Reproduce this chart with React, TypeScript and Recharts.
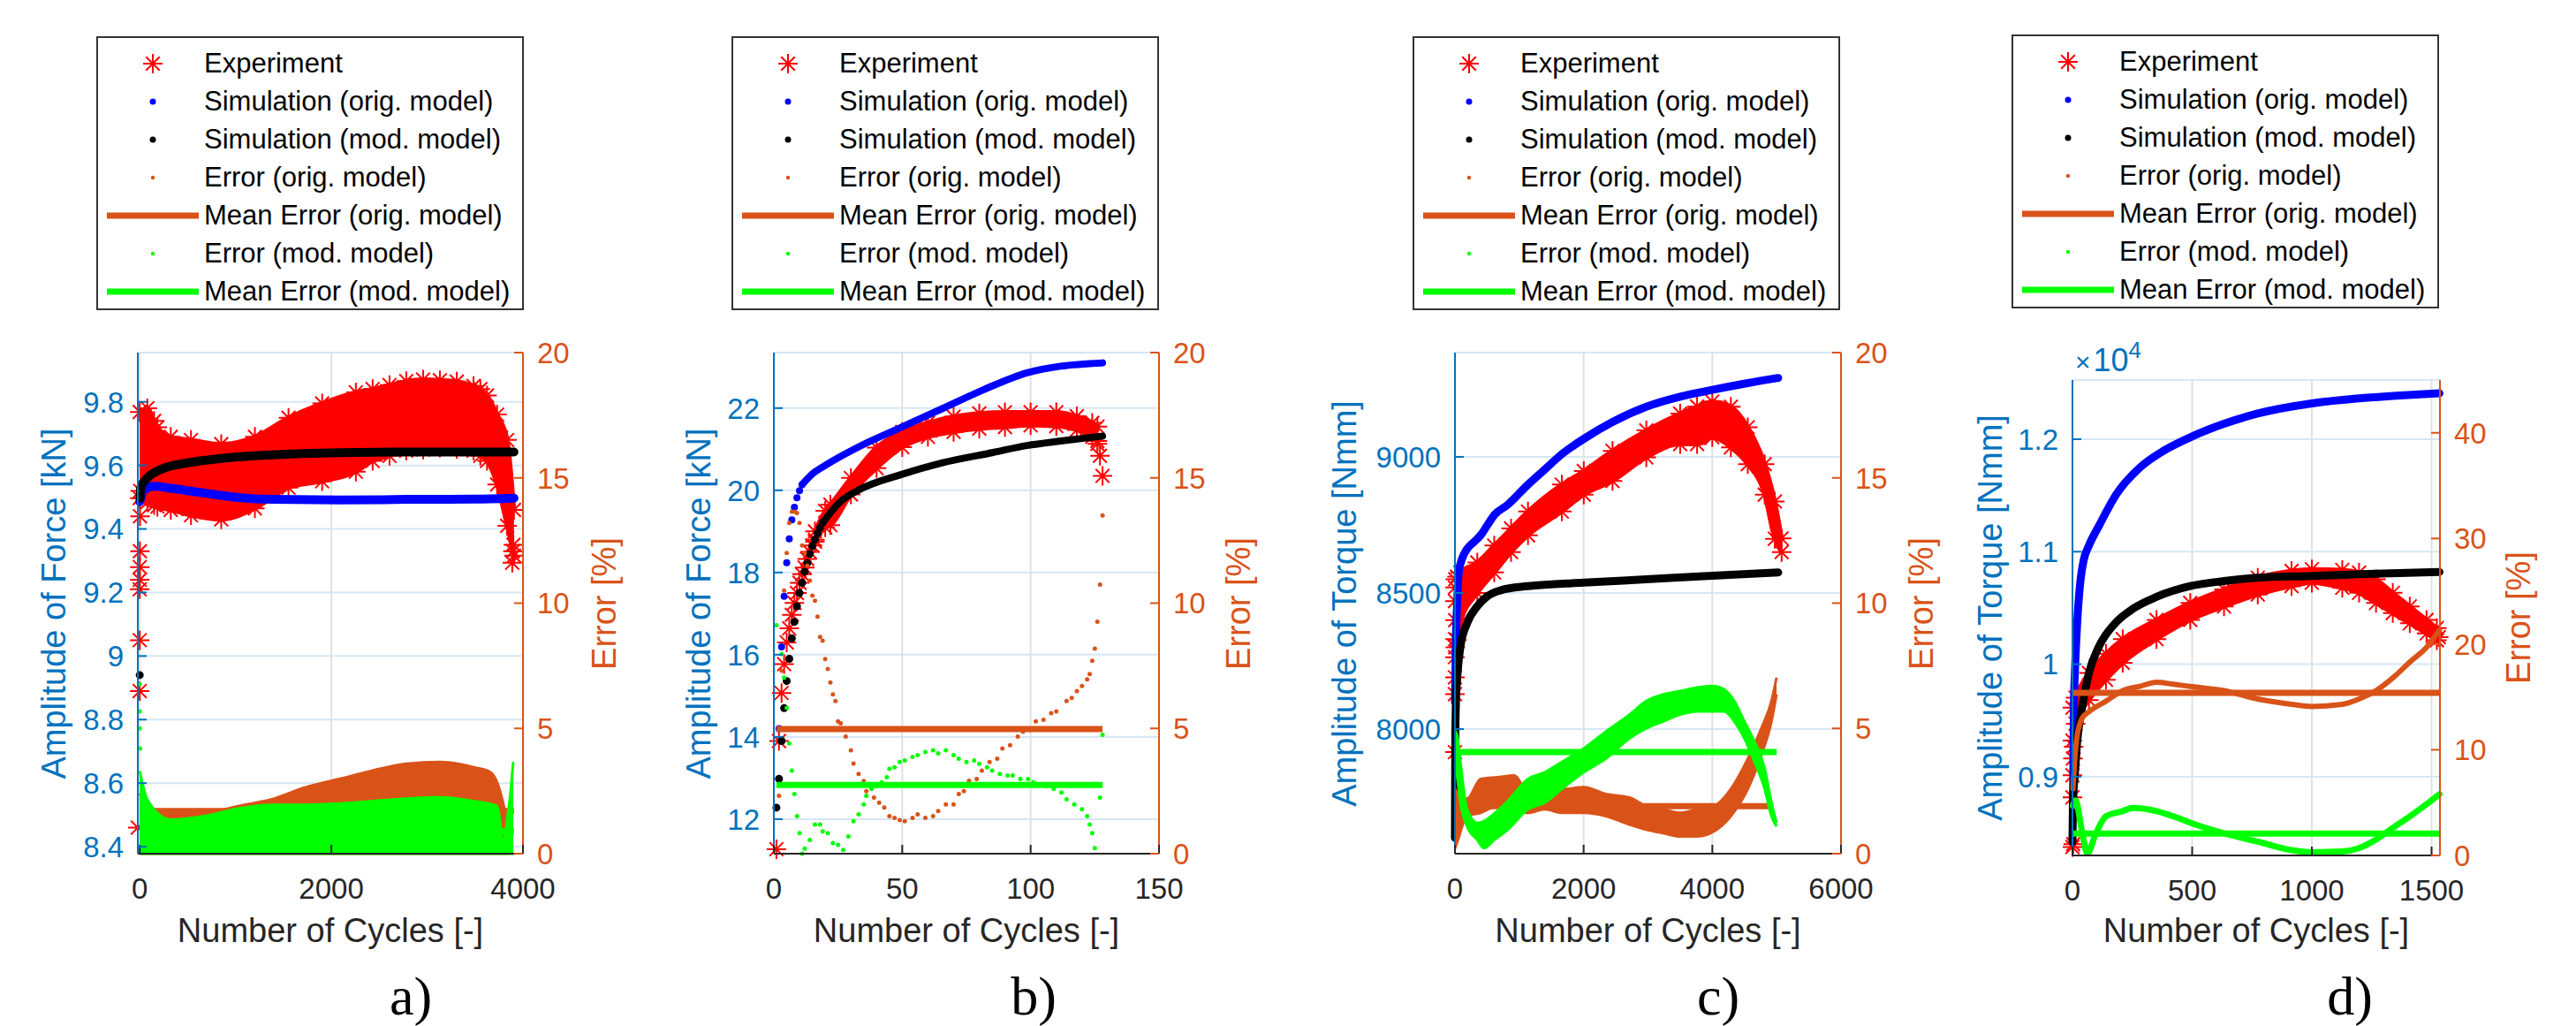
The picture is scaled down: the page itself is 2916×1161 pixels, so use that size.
import React from 'react';
import { ComposedChart, Line, Area, Scatter, XAxis, YAxis, CartesianGrid } from 'recharts';

const AX_BLUE = '#0072BD';
const ORANGE = '#D95319';
const GREEN = '#00FF00';
const RED = '#FF0000';
const SIM_BLUE = '#0000FF';
const DARK = '#262626';
const FONT = '"Liberation Sans", Arial, Helvetica, sans-serif';

type Pt = [number, number];
type Band = [number, number, number];

// ---------- a) force, 4000 cycles ----------
const aExpBand: Band[] = [
  [0, 9.497, 9.768], [80, 9.485, 9.78], [150, 9.475, 9.74], [184, 9.47, 9.72], [324, 9.46, 9.69],
  [535, 9.443, 9.68], [851, 9.43, 9.667], [1202, 9.465, 9.69], [1553, 9.53, 9.75], [1904, 9.55, 9.795],
  [2256, 9.58, 9.83], [2431, 9.614, 9.84], [2607, 9.63, 9.853], [2782, 9.646, 9.865], [2958, 9.65, 9.87],
  [3133, 9.656, 9.868], [3309, 9.652, 9.864], [3484, 9.646, 9.85], [3555, 9.63, 9.84], [3625, 9.614, 9.82],
  [3730, 9.54, 9.76], [3835, 9.41, 9.68], [3906, 9.316, 9.46],
];
const aExpPts: Pt[] = [
  [4, 9.52], [3, 9.44], [2, 9.33], [1, 9.28], [1, 9.24], [0, 9.21], [0, 9.05], [0, 8.89], [-20, 8.46],
  [3888, 9.294], [3900, 9.35], [3895, 9.33],
];
const aSimOrig: Pt[] = [
  [0, 9.486], [44, 9.523], [149, 9.534], [324, 9.528], [675, 9.513], [1027, 9.499], [1378, 9.493],
  [2080, 9.491], [2782, 9.493], [3484, 9.494], [3906, 9.497],
];
const aSimMod: Pt[] = [
  [3, 9.497], [10, 9.53], [78, 9.56], [219, 9.587], [500, 9.608], [851, 9.622], [1378, 9.633],
  [2080, 9.64], [2782, 9.642], [3484, 9.642], [3906, 9.642],
];
const aSimModPts: Pt[] = [[0, 8.94]];
const aErrOrig: Band[] = [
  [0, 0, 2.4], [44, 0, 2.1], [324, 0, 1.55], [675, 0, 1.6], [1027, 0, 1.9], [1378, 0, 2.17], [1729, 0, 2.65],
  [2080, 0, 2.98], [2431, 0, 3.32], [2782, 0, 3.59], [3133, 0, 3.66], [3484, 0, 3.45], [3660, 0, 3.25],
  [3765, 0, 2.44], [3835, 0, 1.23], [3870, 0, 0.3],
];
const aMeanOrig: Pt[] = [[0, 1.7], [3906, 1.7]];
const aErrMod: Band[] = [
  [0, 0, 3.3], [78, 0, 2.17], [324, 0, 1.36], [675, 0, 1.5], [1027, 0, 1.8], [1378, 0, 1.95], [1729, 0, 1.95],
  [2080, 0, 2.0], [2431, 0, 2.1], [2782, 0, 2.2], [3133, 0, 2.25], [3484, 0, 2.1], [3730, 0, 1.9],
  [3800, 0, 0.42], [3835, 0, 1.36], [3870, 0, 2.44], [3898, 0, 3.66],
];
const aErrModPts: Pt[] = [[0, 6.76], [0, 5.68], [0, 5.0], [3, 4.2]];
const aMeanMod: Pt[] = [[0, 0.9], [3906, 0.9]];

// ---------- b) force, 128 cycles ----------
const bExpBand: Band[] = [
  [16, 18.75, 19.0], [20, 19.1, 19.5], [22, 19.15, 19.65], [30, 19.9, 20.3], [40, 20.54, 21.04],
  [50, 21.05, 21.42], [60, 21.3, 21.64], [70, 21.42, 21.79], [80, 21.5, 21.87], [90, 21.54, 21.9],
  [100, 21.58, 21.9], [110, 21.56, 21.9], [118, 21.47, 21.8], [124, 21.3, 21.64], [126, 21.2, 21.55],
];
const bExpPts: Pt[] = [
  [1, 11.27], [2, 13.9], [3, 15.07], [4, 15.77], [5, 16.3], [6, 16.64], [7, 16.97], [8, 17.26], [9, 17.5],
  [10, 17.75], [11, 17.96], [12, 18.12], [13, 18.33], [14, 18.5], [15, 18.66], [16, 18.8],
  [126, 21.13], [127, 20.84], [128, 20.35],
];
const bSimOrigPts: Pt[] = [
  [2, 14.2], [3, 16.19], [4, 17.42], [5, 18.24], [6, 18.82], [7, 19.28], [8, 19.59], [9, 19.82], [10, 19.99], [11, 20.14],
];
const bSimOrig: Pt[] = [
  [11, 20.14], [15, 20.4], [19.6, 20.59], [32.8, 21.05], [49.9, 21.54], [65.7, 21.99], [81.4, 22.44],
  [98.6, 22.86], [111.7, 23.02], [128, 23.1],
];
const bSimModPts: Pt[] = [
  [1, 12.28], [2, 12.98], [3, 13.9], [4, 14.7], [5, 15.36], [6, 15.9], [7, 16.4], [8, 16.8], [9, 17.18],
  [10, 17.5], [11, 17.75], [12, 18.02], [13, 18.23], [14, 18.45], [15, 18.64], [16, 18.8], [17, 18.95],
  [18, 19.09], [19, 19.21],
];
const bSimMod: Pt[] = [
  [19, 19.21], [26, 19.73], [32.8, 20.0], [50, 20.39], [65.7, 20.67], [85.4, 20.92], [98.6, 21.09],
  [111.7, 21.2], [128, 21.32],
];
const bErrOrigPts: Pt[] = [
  [2, 2.31], [3, 7.3], [4, 10.5], [5, 12.0], [6, 13.2], [7, 13.65], [8, 13.65], [9, 13.6], [10, 13.2],
  [11, 12.3], [12, 12.0], [13, 11.5], [14, 10.9], [15, 10.3], [16, 10.1], [17, 9.46], [18, 8.65], [19, 8.5],
  [20, 7.77], [21, 7.37], [22, 6.83], [23, 6.36], [24, 6.09], [25, 5.28], [26, 5.2], [28, 4.67], [30, 4.13],
  [31, 3.6], [33, 3.18], [35, 2.9], [36, 2.5], [39, 2.24], [41, 2.04], [43, 1.84], [45, 1.5], [47, 1.43],
  [49, 1.34], [51, 1.3], [54, 1.43], [56, 1.57], [59, 1.43], [62, 1.5], [64, 1.7], [67, 1.97], [70, 1.97],
  [72, 2.38], [74, 2.5], [76, 2.91], [79, 2.98], [81, 3.32], [84, 3.66], [87, 3.79], [89, 4.2], [92, 4.33],
  [95, 4.67], [97, 4.87], [100, 4.94], [102, 5.28], [105, 5.34], [108, 5.61], [110, 5.68], [114, 6.09],
  [116, 6.22], [118, 6.49], [120, 6.69], [122, 6.96], [123, 7.17], [124, 7.7], [125, 8.18], [126, 9.26],
  [127, 10.74], [128, 13.5],
];
const bMeanOrig: Pt[] = [[1, 4.97], [128, 4.97]];
const bErrModPts: Pt[] = [
  [1, 9.12], [3, 7.97], [4, 7.03], [5, 5.82], [6, 4.4], [7, 3.32], [8, 2.38], [9, 1.5], [10, 0.82], [11, 0.0],
  [12, 0.2], [14, 0.55], [16, 1.16], [18, 1.16], [19, 0.89], [21, 0.82], [23, 0.42], [25, 0.35], [27, 0.15],
  [29, 0.69], [31, 1.3], [33, 1.57], [35, 1.97], [36, 2.31], [38, 2.58], [40, 2.71], [42, 2.85], [44, 3.05],
  [45, 3.39], [47, 3.45], [49, 3.66], [51, 3.72], [54, 3.86], [56, 3.93], [59, 4.06], [62, 4.13], [64, 4.0],
  [67, 4.13], [70, 3.93], [72, 3.79], [75, 3.66], [78, 3.72], [80, 3.59], [83, 3.45], [85, 3.32], [88, 3.18],
  [91, 3.12], [93, 3.12], [96, 2.98], [99, 2.98], [101, 2.85], [104, 2.78], [106, 2.71], [109, 2.58],
  [112, 2.44], [114, 2.17], [117, 1.97], [120, 1.77], [122, 1.5], [123, 1.16], [124, 0.82], [125, 0.22],
  [127, 2.24], [128, 4.74],
];
const bMeanMod: Pt[] = [[1, 2.74], [128, 2.74]];

// ---------- c) torque, 5000 cycles ----------
const cExpBand: Band[] = [
  [5, 8300, 8550], [32, 8327, 8560], [84, 8389, 8575], [347, 8500, 8612], [610, 8575, 8674], [872, 8650, 8737],
  [1135, 8712, 8799], [1661, 8799, 8898], [2002, 8861, 8948], [2449, 8911, 9022], [2974, 8998, 9097],
  [3500, 9047, 9159], [3763, 9047, 9185], [3999, 9072, 9203], [4288, 9035, 9184], [4551, 8973, 9109],
  [4814, 8861, 8973], [4971, 8699, 8836], [5077, 8650, 8700],
];
const cExpPts: Pt[] = [
  [0, 7915], [0, 8128], [0, 8190], [0, 8264], [3, 8330], [3, 8400], [0, 8470], [0, 8520],
];
const cSimOrig: Pt[] = [
  [0, 8100], [5, 8165], [15, 8330], [32, 8451], [58, 8575], [110, 8625], [189, 8662], [294, 8687],
  [399, 8712], [504, 8749], [610, 8786], [820, 8824], [1135, 8898], [1398, 8954], [1661, 9010],
  [2002, 9066], [2449, 9128], [2974, 9184], [3500, 9221], [3999, 9246], [4551, 9271], [5024, 9290],
];
const cSimMod: Pt[] = [
  [0, 7600], [5, 7950], [15, 8100], [32, 8177], [84, 8302], [189, 8389], [347, 8451], [504, 8488],
  [715, 8510], [1135, 8525], [2002, 8538], [2974, 8550], [3999, 8563], [5024, 8575],
];
const cErrOrig: Band[] = [
  [0, 0.2, 2.6], [40, 0.5, 2.4], [189, 1.5, 2.2], [399, 1.63, 2.98], [662, 1.9, 3.05], [925, 1.77, 3.12],
  [1135, 1.63, 2.44], [1398, 1.77, 2.71], [1661, 1.63, 2.58], [2002, 1.63, 2.65], [2344, 1.5, 2.38],
  [2712, 1.16, 2.24], [2974, 0.96, 1.9], [3237, 0.82, 1.77], [3500, 0.69, 1.63], [3763, 0.69, 1.77],
  [4025, 0.89, 1.9], [4288, 1.5, 2.58], [4551, 2.58, 3.79], [4761, 3.93, 5.0], [4919, 5.28, 6.09],
  [4998, 6.36, 7.03],
];
const cMeanOrig: Pt[] = [[0, 1.9], [4945, 1.9]];
const cErrMod: Band[] = [
  [0, 3.5, 4.9], [32, 3.12, 4.74], [84, 2.04, 3.66], [189, 1.09, 1.77], [347, 0.55, 1.23], [452, 0.22, 1.3],
  [610, 0.55, 1.6], [820, 0.96, 2.1], [1135, 1.77, 2.98], [1398, 2.04, 3.25], [1661, 2.58, 3.66],
  [2002, 3.25, 4.2], [2344, 3.79, 4.87], [2712, 4.6, 5.55], [2974, 5.0, 6.09], [3237, 5.28, 6.36],
  [3500, 5.55, 6.49], [3763, 5.68, 6.63], [3999, 5.68, 6.69], [4183, 5.68, 6.56], [4341, 5.28, 6.09],
  [4498, 4.6, 5.28], [4656, 3.66, 4.47], [4814, 2.58, 3.39], [4919, 1.5, 2.04], [4998, 1.09, 1.23],
];
const cMeanMod: Pt[] = [[0, 4.06], [5000, 4.06]];

// ---------- d) torque, 1535 cycles ----------
const dExpBand: Band[] = [
  [0, 9321, 9613], [13, 9471, 9703], [69, 9681, 9922], [140, 9862, 10093], [210, 10012, 10222],
  [351, 10222, 10393], [492, 10393, 10544], [633, 10513, 10664], [774, 10619, 10769], [915, 10694, 10829],
  [1000, 10724, 10844], [1127, 10679, 10838], [1197, 10634, 10814], [1268, 10544, 10754],
  [1338, 10454, 10634], [1409, 10363, 10514], [1479, 10273, 10393], [1522, 10213, 10320],
];
const dExpPts: Pt[] = [[0, 8375], [3, 8400], [0, 8816], [0, 9012], [2, 9162], [5, 9266], [1530, 10240]];
const dSimOrig: Pt[] = [
  [2, 8711], [6, 9613], [10, 9913], [16, 10214], [24, 10514], [34, 10755], [48, 10935], [69, 11055],
  [112, 11235], [182, 11506], [281, 11746], [380, 11896], [492, 12017], [633, 12137], [774, 12228],
  [1000, 12318], [1197, 12363], [1338, 12384], [1533, 12408],
];
const dSimMod: Pt[] = [
  [0, 8420], [2, 8781], [10, 9020], [20, 9321], [41, 9622], [69, 9922], [112, 10162], [182, 10372],
  [253, 10493], [351, 10598], [492, 10694], [633, 10739], [774, 10769], [1000, 10784], [1197, 10799],
  [1533, 10820],
];
const dErrOrig: Pt[] = [
  [2, 6.3], [10, 9.2], [20, 11.4], [41, 13.0], [69, 13.6], [140, 14.6], [210, 15.6], [281, 16.0],
  [351, 16.4], [422, 16.2], [492, 16.0], [633, 15.6], [774, 14.8], [915, 14.3], [1000, 14.1], [1127, 14.3],
  [1197, 14.8], [1268, 15.6], [1338, 16.8], [1409, 18.3], [1479, 19.7], [1533, 21.3],
];
const dMeanOrig: Pt[] = [[0, 15.4], [1533, 15.4]];
const dErrMod: Pt[] = [
  [2, 4.7], [13, 5.2], [41, 2.1], [62, 0.2], [98, 2.1], [140, 3.7], [210, 4.2], [253, 4.5], [351, 4.2],
  [422, 3.7], [492, 3.1], [633, 2.1], [774, 1.3], [915, 0.5], [1000, 0.3], [1127, 0.37], [1197, 0.69],
  [1268, 1.5], [1338, 2.6], [1409, 3.7], [1479, 4.85], [1533, 5.8],
];
const dMeanMod: Pt[] = [[0, 2.06], [1533, 2.06]];

const legendLabels = [
  'Experiment',
  'Simulation (orig. model)',
  'Simulation (mod. model)',
  'Error (orig. model)',
  'Mean Error (orig. model)',
  'Error (mod. model)',
  'Mean Error (mod. model)',
];

const pts = (a: Pt[]) => a.map(([x, y]) => ({ x, y }));
const band = (a: Band[]) => a.map(([x, lo, hi]) => ({ x, r: [lo, hi] }));
// asterisks sitting on both edges of the experiment band
const bandEdges = (a: Band[]) => a.flatMap(([x, lo, hi]) => [{ x, y: lo }, { x, y: hi }]);

const Asterisk = (props: any) => {
  const { cx, cy } = props;
  if (cx == null || cy == null) return null;
  const s = 11;
  const d = s * 0.707;
  return (
    <path
      d={`M${cx - s},${cy}H${cx + s}M${cx},${cy - s}V${cy + s}M${cx - d},${cy - d}L${cx + d},${cy + d}M${cx - d},${cy + d}L${cx + d},${cy - d}`}
      stroke={RED}
      strokeWidth={2}
      fill="none"
    />
  );
};

const dot = (color: string, r: number) => (props: any) => {
  const { cx, cy } = props;
  if (cx == null || cy == null) return null;
  return <circle cx={cx} cy={cy} r={r} fill={color} />;
};

const YTM = 16;
const XTM = 28;

const yTick = (side: 'left' | 'right', color: string, fmt?: (v: number) => string) => (props: any) => {
  const { x, y, payload } = props;
  const axisX = side === 'left' ? x + YTM : x - YTM;
  const inner = side === 'left' ? axisX + 10 : axisX - 10;
  return (
    <g>
      <line x1={axisX} x2={inner} y1={y} y2={y} stroke={color} strokeWidth={2} />
      <text x={x} y={y} dy="0.36em" textAnchor={side === 'left' ? 'end' : 'start'} fill={color} fontSize={33} fontFamily={FONT}>
        {fmt ? fmt(payload.value) : payload.value}
      </text>
    </g>
  );
};

const xTick = (props: any) => {
  const { x, y, payload } = props;
  const axisY = y - XTM;
  return (
    <g>
      <line x1={x} x2={x} y1={axisY} y2={axisY - 10} stroke={DARK} strokeWidth={2} />
      <text x={x} y={y} dy="0.71em" textAnchor="middle" fill={DARK} fontSize={33} fontFamily={FONT}>
        {payload.value}
      </text>
    </g>
  );
};

interface PanelSpec {
  l: number; r: number; t: number; b: number;
  xDomain: [number, number]; xTicks: number[];
  yDomain: [number, number]; yTicks: number[]; yFmt?: (v: number) => string;
  eDomain: [number, number]; eTicks: number[];
  expBand: Band[]; expPts: Pt[];
  simOrig: Pt[]; simOrigPts?: Pt[]; simMod: Pt[]; simModPts?: Pt[]; simW: number;
  errOrigBand?: Band[]; errOrigLine?: Pt[]; errOrigPts?: Pt[]; meanOrig: Pt[];
  errModBand?: Band[]; errModLine?: Pt[]; errModPts?: Pt[]; meanMod: Pt[];
  yLabel: string; yLabelX: number; eLabelX: number;
  letter: string; letterX: number;
  legendX: number; legendY: number;
}

const LW = 160;
const RW = 130;
const TOP = 30;
const XH = 80;

function Panel({ s }: { s: PanelSpec }) {
  const pw = s.r - s.l;
  const ph = s.b - s.t;
  const midY = (s.t + s.b) / 2;
  // drawing order follows the original plot: experiment, simulations, then the error series
  const z = (n: number) => ({ zIndex: 110 + n * 10 } as any);
  return (
    <>
      <LegendBox x={s.legendX} y={s.legendY} />
      <div style={{ position: 'absolute', left: s.l - LW, top: s.t - TOP }}>
        <ComposedChart width={LW + pw + RW} height={TOP + ph + XH} margin={{ top: TOP, right: 0, bottom: 0, left: 0 }}>
          <CartesianGrid yAxisId="left" horizontal vertical={false} stroke="#D6E7F4" strokeWidth={2} />
          <CartesianGrid yAxisId="left" horizontal={false} vertical stroke="#E1E1E1" strokeWidth={2} />
          <XAxis
            type="number" dataKey="x" domain={s.xDomain} ticks={s.xTicks} height={XH}
            axisLine={{ stroke: DARK, strokeWidth: 2 }} tickLine={false} tickSize={0} tickMargin={XTM} tick={xTick}
          />
          <YAxis
            yAxisId="left" orientation="left" type="number" width={LW} domain={s.yDomain} ticks={s.yTicks}
            axisLine={{ stroke: AX_BLUE, strokeWidth: 2 }} tickLine={false} tickSize={0} tickMargin={YTM}
            tick={yTick('left', AX_BLUE, s.yFmt)}
          />
          <YAxis
            yAxisId="right" orientation="right" type="number" width={RW} domain={s.eDomain} ticks={s.eTicks}
            axisLine={{ stroke: ORANGE, strokeWidth: 2 }} tickLine={false} tickSize={0} tickMargin={YTM}
            tick={yTick('right', ORANGE)}
          />
          <Area {...z(0)} yAxisId="left" type="monotone" data={band(s.expBand)} dataKey="r" stroke={RED} strokeWidth={5}
            fill={RED} fillOpacity={1} dot={false} activeDot={false} isAnimationActive={false} />
          <Scatter {...z(1)} yAxisId="left" data={bandEdges(s.expBand)} dataKey="y" shape={Asterisk} isAnimationActive={false} />
          <Scatter {...z(2)} yAxisId="left" data={pts(s.expPts)} dataKey="y" shape={Asterisk} isAnimationActive={false} />
          <Line {...z(3)} yAxisId="left" type="monotone" data={pts(s.simOrig)} dataKey="y" stroke={SIM_BLUE} strokeWidth={s.simW}
            strokeLinecap="round" dot={false} activeDot={false} isAnimationActive={false} />
          {s.simOrigPts && (
            <Scatter {...z(4)} yAxisId="left" data={pts(s.simOrigPts)} dataKey="y" shape={dot(SIM_BLUE, 4)} isAnimationActive={false} />
          )}
          <Line {...z(5)} yAxisId="left" type="monotone" data={pts(s.simMod)} dataKey="y" stroke="#000000" strokeWidth={s.simW}
            strokeLinecap="round" dot={false} activeDot={false} isAnimationActive={false} />
          {s.simModPts && (
            <Scatter {...z(6)} yAxisId="left" data={pts(s.simModPts)} dataKey="y" shape={dot('#000000', 4.5)} isAnimationActive={false} />
          )}
          {s.errOrigBand && (
            <Area {...z(7)} yAxisId="right" type="monotone" data={band(s.errOrigBand)} dataKey="r" stroke={ORANGE} strokeWidth={3}
              fill={ORANGE} fillOpacity={1} dot={false} activeDot={false} isAnimationActive={false} />
          )}
          {s.errOrigLine && (
            <Line {...z(7)} yAxisId="right" type="monotone" data={pts(s.errOrigLine)} dataKey="y" stroke={ORANGE} strokeWidth={6}
              strokeLinecap="round" dot={false} activeDot={false} isAnimationActive={false} />
          )}
          {s.errOrigPts && (
            <Scatter {...z(7)} yAxisId="right" data={pts(s.errOrigPts)} dataKey="y" shape={dot(ORANGE, 2.5)} isAnimationActive={false} />
          )}
          <Line {...z(8)} yAxisId="right" type="linear" data={pts(s.meanOrig)} dataKey="y" stroke={ORANGE} strokeWidth={7}
            dot={false} activeDot={false} isAnimationActive={false} />
          {s.errModBand && (
            <Area {...z(9)} yAxisId="right" type="monotone" data={band(s.errModBand)} dataKey="r" stroke={GREEN} strokeWidth={3}
              fill={GREEN} fillOpacity={1} dot={false} activeDot={false} isAnimationActive={false} />
          )}
          {s.errModLine && (
            <Line {...z(9)} yAxisId="right" type="monotone" data={pts(s.errModLine)} dataKey="y" stroke={GREEN} strokeWidth={7}
              strokeLinecap="round" dot={false} activeDot={false} isAnimationActive={false} />
          )}
          {s.errModPts && (
            <Scatter {...z(10)} yAxisId="right" data={pts(s.errModPts)} dataKey="y" shape={dot(GREEN, 2.5)} isAnimationActive={false} />
          )}
          <Line {...z(11)} yAxisId="right" type="linear" data={pts(s.meanMod)} dataKey="y" stroke={GREEN} strokeWidth={7}
            dot={false} activeDot={false} isAnimationActive={false} />
        </ComposedChart>
      </div>
      <VLabel text={s.yLabel} cx={s.yLabelX} cy={midY} color={AX_BLUE} />
      <VLabel text="Error [%]" cx={s.eLabelX} cy={midY} color={ORANGE} />
      <div style={{ position: 'absolute', left: s.l, width: pw, top: 1030, textAlign: 'center', fontFamily: FONT, fontSize: 38, lineHeight: '46px', color: DARK }}>
        Number of Cycles [-]
      </div>
      <div style={{ position: 'absolute', left: s.letterX - 100, width: 200, top: 1090, textAlign: 'center', fontFamily: '"Liberation Serif", "DejaVu Serif", serif', fontSize: 62, lineHeight: '74px', color: '#000' }}>
        {s.letter}
      </div>
    </>
  );
}

function VLabel({ text, cx, cy, color }: { text: string; cx: number; cy: number; color: string }) {
  return (
    <div style={{
      position: 'absolute', left: cx - 300, top: cy - 25, width: 600, height: 50, lineHeight: '50px',
      textAlign: 'center', fontFamily: FONT, fontSize: 38, color, transform: 'rotate(-90deg)', whiteSpace: 'nowrap',
    }}>
      {text}
    </div>
  );
}

function LegendIcon({ i }: { i: number }) {
  const c = 52;
  let el: React.ReactNode = null;
  if (i === 0) el = <Asterisk cx={c} cy={20} />;
  if (i === 1) el = <circle cx={c} cy={20} r={3.5} fill={SIM_BLUE} />;
  if (i === 2) el = <circle cx={c} cy={20} r={3.5} fill="#000" />;
  if (i === 3) el = <circle cx={c} cy={20} r={2.2} fill={ORANGE} />;
  if (i === 4) el = <rect x={0} y={16.5} width={104} height={7} fill={ORANGE} />;
  if (i === 5) el = <circle cx={c} cy={20} r={2.2} fill={GREEN} />;
  if (i === 6) el = <rect x={0} y={16.5} width={104} height={7} fill={GREEN} />;
  return <svg width={104} height={40} style={{ position: 'absolute', left: 10, top: 0 }}>{el}</svg>;
}

function LegendBox({ x, y }: { x: number; y: number }) {
  return (
    <div style={{ position: 'absolute', left: x, top: y, width: 484, height: 310, border: '2px solid #333', boxSizing: 'border-box', background: '#fff' }}>
      {legendLabels.map((lab, i) => (
        <div key={lab} style={{ position: 'absolute', left: 0, top: 9 + 43 * i, height: 40, width: 480 }}>
          <LegendIcon i={i} />
          <div style={{ position: 'absolute', left: 120, top: 0, lineHeight: '40px', fontFamily: FONT, fontSize: 31, color: '#000', whiteSpace: 'nowrap' }}>
            {lab}
          </div>
        </div>
      ))}
    </div>
  );
}

const panels: PanelSpec[] = [
  {
    l: 156, r: 592, t: 399, b: 966,
    xDomain: [0, 4000], xTicks: [0, 2000, 4000],
    yDomain: [8.378, 9.955], yTicks: [8.4, 8.6, 8.8, 9, 9.2, 9.4, 9.6, 9.8], yFmt: (v) => String(v),
    eDomain: [0, 20], eTicks: [0, 5, 10, 15, 20],
    expBand: aExpBand, expPts: aExpPts, simOrig: aSimOrig, simMod: aSimMod, simModPts: aSimModPts, simW: 10,
    errOrigBand: aErrOrig, meanOrig: aMeanOrig, errModBand: aErrMod, errModPts: aErrModPts, meanMod: aMeanMod,
    yLabel: 'Amplitude of Force [kN]', yLabelX: 61, eLabelX: 684, letter: 'a)', letterX: 465,
    legendX: 109, legendY: 41,
  },
  {
    l: 876, r: 1312, t: 399, b: 966,
    xDomain: [0, 150], xTicks: [0, 50, 100, 150],
    yDomain: [11.16, 23.35], yTicks: [12, 14, 16, 18, 20, 22],
    eDomain: [0, 20], eTicks: [0, 5, 10, 15, 20],
    expBand: bExpBand, expPts: bExpPts, simOrig: bSimOrig, simOrigPts: bSimOrigPts, simMod: bSimMod,
    simModPts: bSimModPts, simW: 8,
    errOrigPts: bErrOrigPts, meanOrig: bMeanOrig, errModPts: bErrModPts, meanMod: bMeanMod,
    yLabel: 'Amplitude of Force [kN]', yLabelX: 791, eLabelX: 1402, letter: 'b)', letterX: 1170,
    legendX: 828, legendY: 41,
  },
  {
    l: 1647, r: 2084, t: 399, b: 966,
    xDomain: [0, 6000], xTicks: [0, 2000, 4000, 6000],
    yDomain: [7542, 9383], yTicks: [8000, 8500, 9000],
    eDomain: [0, 20], eTicks: [0, 5, 10, 15, 20],
    expBand: cExpBand, expPts: cExpPts, simOrig: cSimOrig, simMod: cSimMod, simW: 9,
    errOrigBand: cErrOrig, meanOrig: cMeanOrig, errModBand: cErrMod, meanMod: cMeanMod,
    yLabel: 'Amplitude of Torque [Nmm]', yLabelX: 1522, eLabelX: 2175, letter: 'c)', letterX: 1945,
    legendX: 1599, legendY: 41,
  },
  {
    l: 2346, r: 2762, t: 430, b: 968,
    xDomain: [0, 1535], xTicks: [0, 500, 1000, 1500],
    yDomain: [8300, 12526], yTicks: [9000, 10000, 11000, 12000], yFmt: (v) => String(v / 10000),
    eDomain: [0, 45], eTicks: [0, 10, 20, 30, 40],
    expBand: dExpBand, expPts: dExpPts, simOrig: dSimOrig, simMod: dSimMod, simW: 9,
    errOrigLine: dErrOrig, meanOrig: dMeanOrig, errModLine: dErrMod, meanMod: dMeanMod,
    yLabel: 'Amplitude of Torque [Nmm]', yLabelX: 2253, eLabelX: 2851, letter: 'd)', letterX: 2660,
    legendX: 2277, legendY: 39,
  },
];

export default function App() {
  return (
    <div style={{ position: 'absolute', left: 0, top: 0, width: 2916, height: 1161, background: '#fff', overflow: 'hidden' }}>
      {panels.map((p) => (
        <Panel key={p.letter} s={p} />
      ))}
      <div style={{ position: 'absolute', left: 2349, top: 390, fontFamily: FONT, fontSize: 36, lineHeight: '36px', color: AX_BLUE, whiteSpace: 'nowrap' }}>
        <span style={{ fontSize: 30, marginRight: 3 }}>×</span>10<span style={{ fontSize: 26, position: 'relative', top: -15 }}>4</span>
      </div>
    </div>
  );
}
